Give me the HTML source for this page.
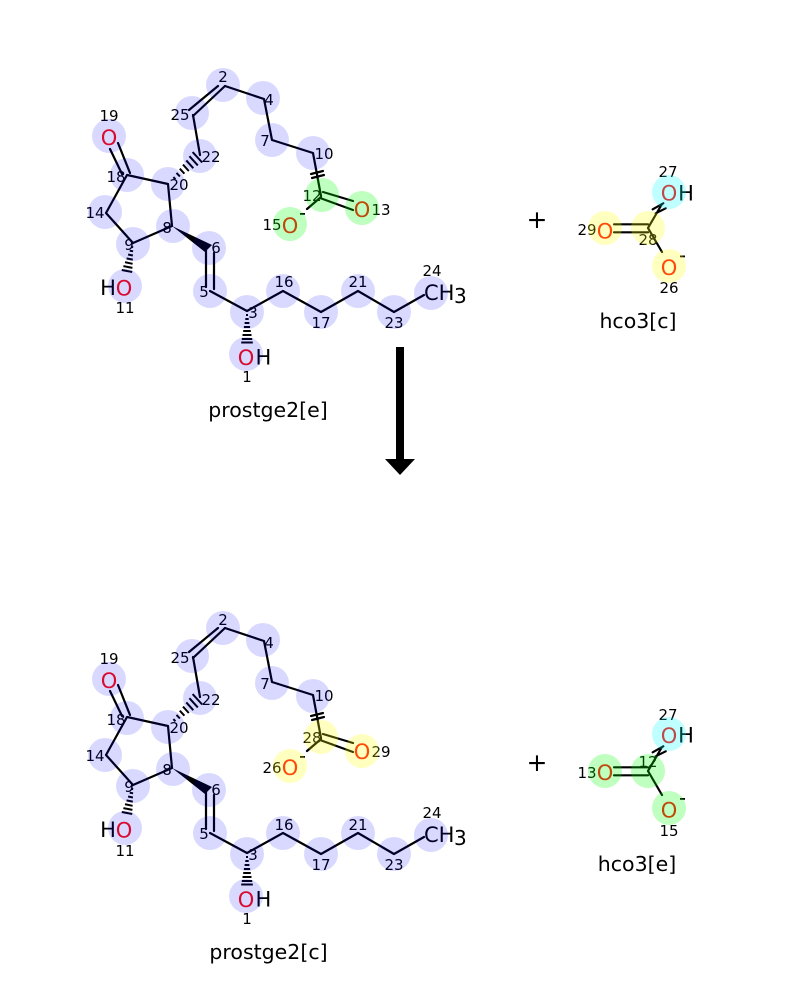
<!DOCTYPE html>
<html><head><meta charset="utf-8"><style>
html,body{margin:0;padding:0;background:#fff;width:800px;height:1000px;overflow:hidden}
svg{display:block}
text{font-family:"DejaVu Sans",sans-serif;text-anchor:middle}
.n{font-size:15px;fill:#000}
.a{font-size:21px}
.r{fill:#ff0d0d}
.k{fill:#000}
.s{text-anchor:start}
.t{font-size:20.5px;fill:#000}
.b{stroke:#000;stroke-width:2.2;fill:none;stroke-linecap:round;stroke-linejoin:round}
.h{stroke:#000;stroke-width:2;fill:none}
.L{fill:#0000ff;fill-opacity:.15}
.G{fill:#00ff00;fill-opacity:.25}
.Y{fill:#ffff00;fill-opacity:.25}
.C{fill:#00ffff;fill-opacity:.25}
</style></head><body>
<svg xmlns="http://www.w3.org/2000/svg" width="800" height="1000" viewBox="0 0 800 1000">
<rect width="800" height="1000" fill="#fff"/>

<g>
<path class="b" d="M225 86L264 99L272 140L313 153L321 196M193 115L200 155M168 184L127 175L106 213L133 243L172 226L168 184M210 291L247 311L283 291L321 312L358 291L394 312L424 295"/>
<path class="b" d="M189 110L218 86M193 116L225 86M130 173L118 143M122 174L110 149M206 250L206 287M214 253L214 289M323 192L353 201M320 198L353 210M321 197L307 209"/>
<path class="b" d="M311 174L323 171M312 178L324 175"/>
<polygon points="172,226 212,245 205,252" fill="#000"/>
<path class="h" d="M173.4 177.1L175.4 179.3M176.5 172.9L179.9 176.5M179.8 168.7L184.4 173.7M183 164.6L188.8 171M186.3 160.4L193.3 168.2M189.4 156.2L197.8 165.4M192.6 152.1L202.2 162.5"/>
<path class="h" d="M131.2 246.8L133.2 247.2M129.7 250.7L133.1 251.3M128.1 254.5L132.9 255.5M126.6 258.4L132.8 259.6M125 262.2L132.6 263.8M123.4 266.1L132.4 267.9M121.8 270L132.2 272"/>
<path class="h" d="M246 315H248M245.3 319H248.7M244.6 323H249.4M243.9 327H250.1M243.2 331H250.8M242.5 335H251.5M241.8 339H252.2M241.2 342.5H252.8"/>
<path class="b" d="M648 228L662 204M614 224.3H648M614 232.3H648M648 228L662 252M652.7 209.3L663.3 203.3M655.7 213.3L665.7 208.3"/>
</g>
<g transform="translate(0,542)">
<path class="b" d="M225 86L264 99L272 140L313 153L321 196M193 115L200 155M168 184L127 175L106 213L133 243L172 226L168 184M210 291L247 311L283 291L321 312L358 291L394 312L424 295"/>
<path class="b" d="M189 110L218 86M193 116L225 86M130 173L118 143M122 174L110 149M206 250L206 287M214 253L214 289M323 192L353 201M320 198L353 210M321 197L307 209"/>
<path class="b" d="M311 174L323 171M312 178L324 175"/>
<polygon points="172,226 212,245 205,252" fill="#000"/>
<path class="h" d="M173.4 177.1L175.4 179.3M176.5 172.9L179.9 176.5M179.8 168.7L184.4 173.7M183 164.6L188.8 171M186.3 160.4L193.3 168.2M189.4 156.2L197.8 165.4M192.6 152.1L202.2 162.5"/>
<path class="h" d="M131.2 246.8L133.2 247.2M129.7 250.7L133.1 251.3M128.1 254.5L132.9 255.5M126.6 258.4L132.8 259.6M125 262.2L132.6 263.8M123.4 266.1L132.4 267.9M121.8 270L132.2 272"/>
<path class="h" d="M246 315H248M245.3 319H248.7M244.6 323H249.4M243.9 327H250.1M243.2 331H250.8M242.5 335H251.5M241.8 339H252.2M241.2 342.5H252.8"/>
</g>
<g transform="translate(0,543)">
<path class="b" d="M648 228L662 204M614 224.3H648M614 232.3H648M648 228L662 252M652.7 209.3L663.3 203.3M655.7 213.3L665.7 208.3"/>
</g>

<!-- arrow -->
<rect x="396" y="347" width="8" height="113" fill="#000"/>
<polygon points="385,459 415,459 400,475" fill="#000"/>

<!-- top labels -->
<g class="n">
<text x="223" y="82">2</text><text x="269" y="105">4</text><text x="180" y="120">25</text><text x="265" y="146">7</text>
<text x="109" y="121">19</text><text x="211" y="162">22</text><text x="116" y="182">18</text><text x="179" y="190">20</text>
<text x="95" y="218">14</text><text x="167" y="233">8</text><text x="129" y="250">9</text><text x="216" y="253">6</text>
<text x="324" y="159">10</text><text x="312" y="201">12</text><text x="381" y="215">13</text><text x="272" y="230">15</text>
<text x="284" y="287">16</text><text x="321" y="328">17</text><text x="358" y="287">21</text><text x="394" y="328">23</text>
<text x="432" y="276">24</text><text x="204" y="297">5</text><text x="253" y="318">3</text><text x="247" y="382">1</text><text x="125" y="313">11</text>
<text x="668" y="177">27</text><text x="587" y="235">29</text><text x="648" y="245">28</text><text x="669" y="293">26</text>
</g>
<g class="a">
<text class="r" x="109" y="145">O</text>
<text class="k" x="108" y="295">H</text><text class="r" x="124" y="295.5">O</text>
<text class="r" x="246" y="365">O</text><text class="k" x="263.4" y="364.5">H</text>
<text class="r" x="362" y="217">O</text><text class="r" x="290" y="233">O</text>
<text class="k s" x="424" y="300">CH</text><text class="k s" x="454" y="303" style="font-size:20px">3</text>
<text class="r" x="669" y="200.5">O</text><text class="k" x="686" y="200.5">H</text>
<text class="r" x="605" y="238.5">O</text><text class="r" x="669" y="275">O</text>
</g>
<rect x="300" y="213" width="5" height="1.8" fill="#000"/>
<rect x="680" y="255.5" width="5" height="1.8" fill="#000"/>
<text class="t" x="268" y="417">prostge2[e]</text>
<text class="t" x="638" y="328">hco3[c]</text>
<text x="537" y="228" style="font-size:25px">+</text>

<!-- bottom labels -->
<g class="n">
<text x="223" y="625">2</text><text x="269" y="648">4</text><text x="180" y="663">25</text><text x="265" y="689">7</text>
<text x="109" y="664">19</text><text x="211" y="705">22</text><text x="116" y="725">18</text><text x="179" y="733">20</text>
<text x="95" y="761">14</text><text x="167" y="775">8</text><text x="129" y="792">9</text><text x="216" y="795">6</text>
<text x="324" y="701">10</text><text x="312" y="743">28</text><text x="381" y="757">29</text><text x="272" y="773">26</text>
<text x="284" y="830">16</text><text x="321" y="870">17</text><text x="358" y="830">21</text><text x="394" y="870">23</text>
<text x="432" y="818">24</text><text x="204" y="839">5</text><text x="253" y="860">3</text><text x="247" y="924">1</text><text x="125" y="856">11</text>
<text x="668" y="720">27</text><text x="587" y="778">13</text><text x="648" y="767">12</text><text x="669" y="836">15</text>
</g>
<g class="a">
<text class="r" x="109" y="688">O</text>
<text class="k" x="108" y="837">H</text><text class="r" x="124" y="837.5">O</text>
<text class="r" x="246" y="907">O</text><text class="k" x="263.4" y="906.5">H</text>
<text class="r" x="362" y="759">O</text><text class="r" x="290" y="775">O</text>
<text class="k s" x="424" y="842">CH</text><text class="k s" x="454" y="845" style="font-size:20px">3</text>
<text class="r" x="669" y="743">O</text><text class="k" x="686" y="742.5">H</text>
<text class="r" x="605" y="780">O</text><text class="r" x="669" y="817.5">O</text>
</g>
<rect x="300" y="756" width="5" height="1.8" fill="#000"/>
<rect x="680" y="798" width="5" height="1.8" fill="#000"/>
<text class="t" x="268.5" y="959">prostge2[c]</text>
<text class="t" x="637" y="871">hco3[e]</text>
<text x="537" y="771" style="font-size:25px">+</text>

<!-- highlights top -->
<g class="L">
<circle cx="223" cy="85" r="17"/><circle cx="263" cy="98" r="17"/><circle cx="192" cy="113" r="17"/><circle cx="272" cy="140" r="17"/>
<circle cx="109" cy="136" r="17"/><circle cx="200" cy="156" r="17"/><circle cx="127" cy="175" r="17"/><circle cx="168" cy="184" r="17"/>
<circle cx="105" cy="212" r="17"/><circle cx="173" cy="226" r="17"/><circle cx="133" cy="244" r="17"/><circle cx="209" cy="248" r="17"/>
<circle cx="313" cy="153" r="17"/><circle cx="283" cy="291" r="17"/><circle cx="321" cy="312" r="17"/><circle cx="358" cy="291" r="17"/>
<circle cx="394" cy="312" r="17"/><circle cx="431" cy="293" r="17"/><circle cx="210" cy="291" r="17"/><circle cx="247" cy="312" r="17"/>
<circle cx="246" cy="354" r="17"/><circle cx="125" cy="286" r="17"/>
</g>
<g class="G"><circle cx="322" cy="195" r="17"/><circle cx="362" cy="208" r="17"/><circle cx="290" cy="224" r="17"/></g>
<g class="Y"><circle cx="648" cy="228" r="17"/><circle cx="605" cy="228" r="17"/><circle cx="669" cy="266" r="17"/></g>
<circle class="C" cx="669" cy="192" r="17"/>

<!-- highlights bottom -->
<g class="L">
<circle cx="223" cy="628" r="17"/><circle cx="263" cy="640" r="17"/><circle cx="192" cy="656" r="17"/><circle cx="272" cy="683" r="17"/>
<circle cx="109" cy="679" r="17"/><circle cx="200" cy="698" r="17"/><circle cx="127" cy="718" r="17"/><circle cx="168" cy="727" r="17"/>
<circle cx="105" cy="755" r="17"/><circle cx="173" cy="769" r="17"/><circle cx="133" cy="786" r="17"/><circle cx="209" cy="790" r="17"/>
<circle cx="313" cy="696" r="17"/><circle cx="283" cy="833" r="17"/><circle cx="321" cy="854" r="17"/><circle cx="358" cy="833" r="17"/>
<circle cx="394" cy="854" r="17"/><circle cx="431" cy="835" r="17"/><circle cx="210" cy="833" r="17"/><circle cx="247" cy="854" r="17"/>
<circle cx="246" cy="896" r="17"/><circle cx="125" cy="828" r="17"/>
</g>
<g class="Y"><circle cx="321" cy="737" r="17"/><circle cx="362" cy="751" r="17"/><circle cx="290" cy="766" r="17"/></g>
<g class="G"><circle cx="648" cy="771" r="17"/><circle cx="605" cy="771" r="17"/><circle cx="669" cy="808" r="17"/></g>
<circle class="C" cx="669" cy="734" r="17"/>
</svg>
</body></html>
